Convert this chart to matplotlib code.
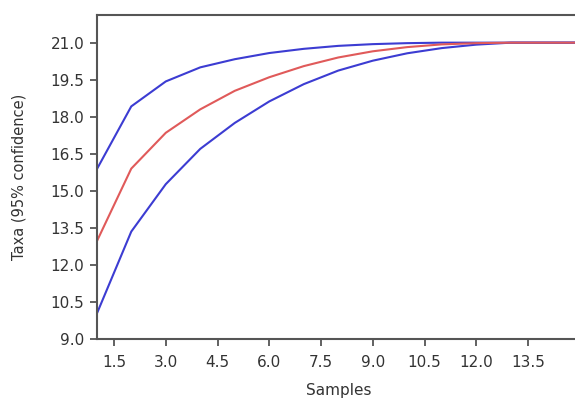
import numpy as np
import matplotlib.pyplot as plt

# rarefaction curve: expected taxa and 95% confidence bounds
samples = [1, 2, 3, 4, 5, 6, 7, 8, 9, 10, 11, 12, 13, 14, 15]
taxa_mean = [12.95, 15.9, 17.35, 18.3, 19.05, 19.6, 20.05, 20.4, 20.65, 20.82, 20.93, 20.98, 21.0, 21.0, 21.0]
taxa_upper = [15.87, 18.42, 19.43, 20.0, 20.33, 20.58, 20.75, 20.87, 20.94, 20.98, 21.0, 21.0, 21.0, 21.0, 21.0]
taxa_lower = [10.02, 13.35, 15.27, 16.7, 17.75, 18.62, 19.32, 19.87, 20.27, 20.57, 20.78, 20.92, 21.0, 21.0, 21.0]

xticks = [1.5, 3.0, 4.5, 6.0, 7.5, 9.0, 10.5, 12.0, 13.5]
yticks = [9.0, 10.5, 12.0, 13.5, 15.0, 16.5, 18.0, 19.5, 21.0]

plt.rcParams['font.family'] = ['DejaVu Sans']

fig = plt.figure(figsize=(5.75, 4), dpi=100)
ax = fig.add_axes([0.1683, 0.1525, 0.84, 0.81])

ax.plot(samples, taxa_upper, color='#3c3cd2', lw=1.5)
ax.plot(samples, taxa_lower, color='#3c3cd2', lw=1.5)
ax.plot(samples, taxa_mean, color='#e05a5a', lw=1.5)

ax.set_xlim(1, 15)
ax.set_ylim(9, 22.12)
ax.set_xticks(xticks)
ax.set_xticklabels([f'{t:.1f}' for t in xticks])
ax.set_yticks(yticks)
ax.set_yticklabels([f'{t:.1f}' for t in yticks])

for side in ['left', 'bottom', 'top', 'right']:
    ax.spines[side].set_color('#555555')
    ax.spines[side].set_linewidth(1.5)

ax.tick_params(direction='out', length=5, width=1.3, color='#555555',
               labelsize=11, labelcolor='#333333')
ax.tick_params(axis='x', pad=6.5)
ax.tick_params(axis='y', pad=4)

ax.set_xlabel('Samples', fontsize=11, color='#333333', labelpad=9.5)
ax.set_ylabel('Taxa (95% confidence)', fontsize=10.5, color='#333333', labelpad=17)

fig.savefig('out.png', dpi=100)
